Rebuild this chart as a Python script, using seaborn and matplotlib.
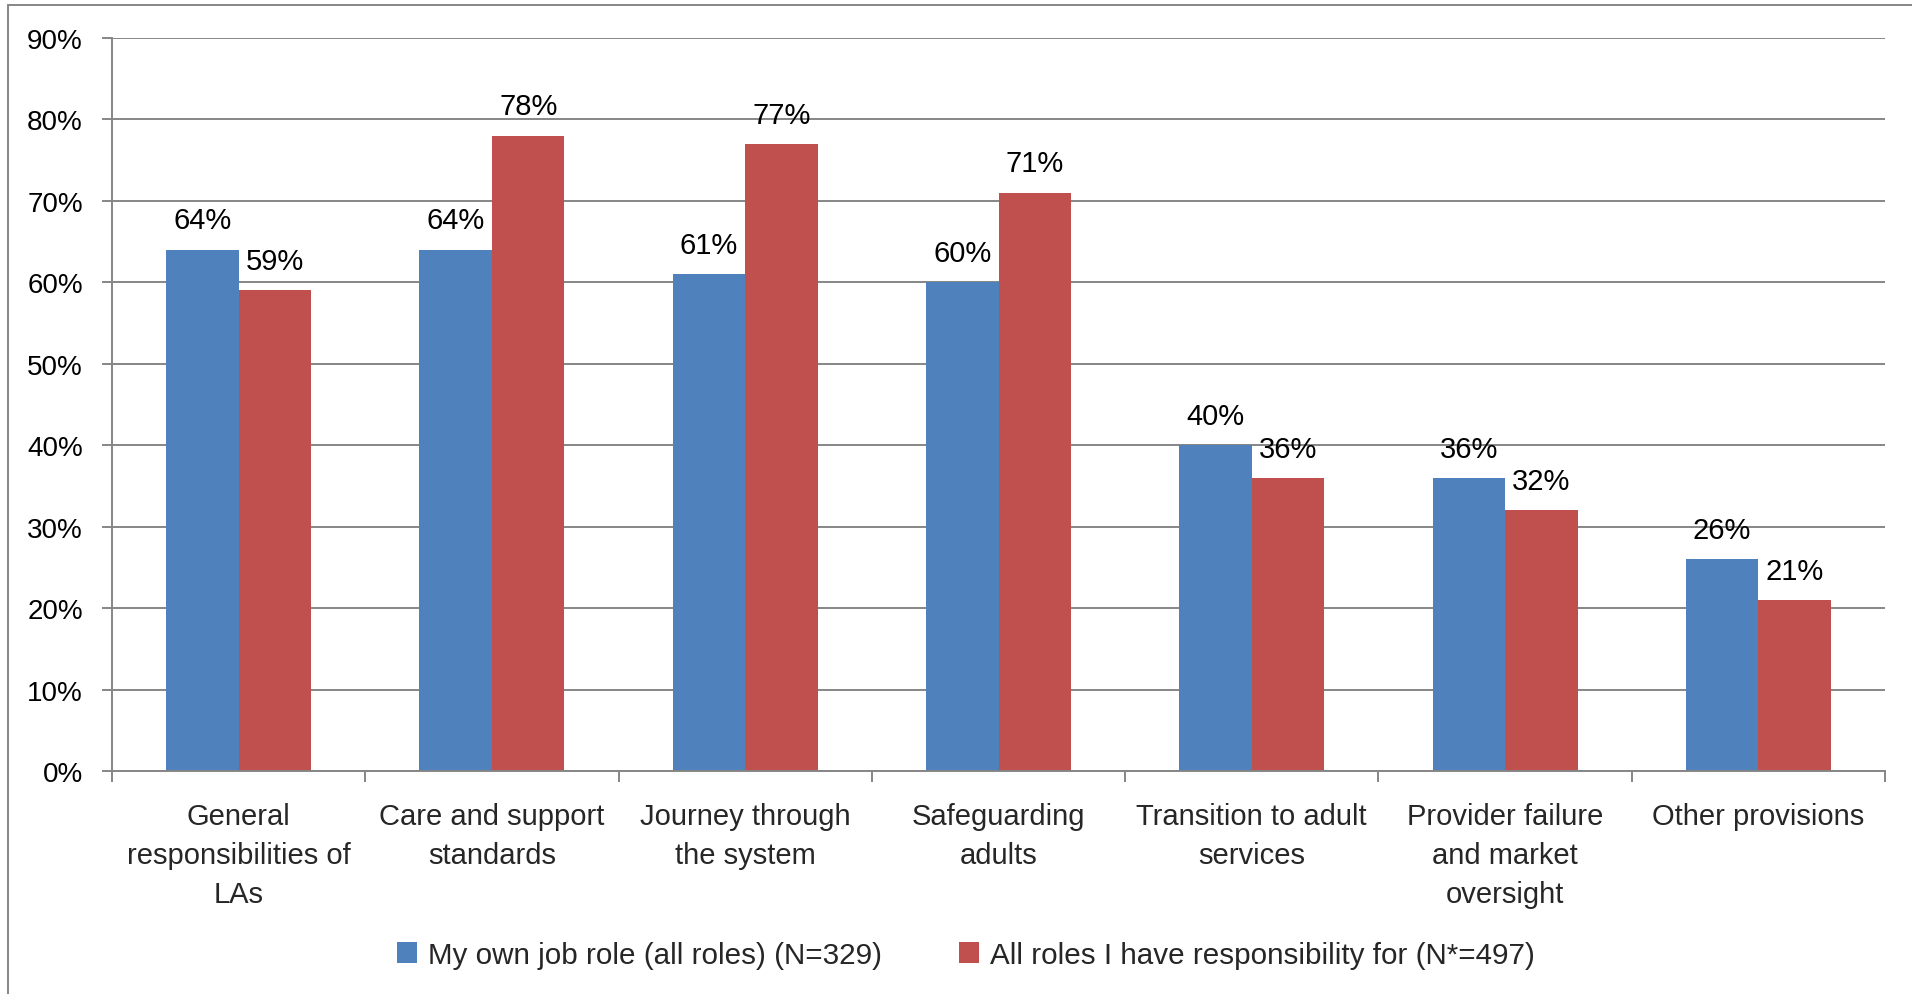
import matplotlib
matplotlib.use("Agg")
import matplotlib.pyplot as plt
from matplotlib.lines import Line2D
import seaborn as sns
import pandas as pd
import numpy as np

categories = [
    "General\nresponsibilities of\nLAs",
    "Care and support\nstandards",
    "Journey through\nthe system",
    "Safeguarding\nadults",
    "Transition to adult\nservices",
    "Provider failure\nand market\noversight",
    "Other provisions",
]
series_names = [
    "My own job role (all roles) (N=329)",
    "All roles I have responsibility for (N*=497)",
]
own_role = [64, 64, 61, 60, 40, 36, 26]
all_roles = [59, 78, 77, 71, 36, 32, 21]
y_ticks = [0, 10, 20, 30, 40, 50, 60, 70, 80, 90]
colors = ["#4F81BD", "#C0504D"]

df = pd.DataFrame({
    "category": categories * 2,
    "series": [series_names[0]] * len(categories) + [series_names[1]] * len(categories),
    "value": own_role + all_roles,
})

sns.set_theme(style="white")
plt.rcParams["font.family"] = ["Liberation Sans", "DejaVu Sans"]
FS = 20
FS_TEXT = 21

fig = plt.figure(figsize=(19.12, 9.95), dpi=100)
ax = fig.add_axes([112 / 1912, 1 - 772 / 995, (1885 - 112) / 1912, (772 - 39) / 995])

sns.barplot(
    data=df, x="category", y="value", hue="series",
    order=categories, hue_order=series_names,
    palette=colors, width=0.573, gap=0, saturation=1,
    edgecolor="none", linewidth=0, ax=ax, legend=True,
)

grid_color = "#868686"
ax.set_ylim(0, 90)
ax.set_xlim(-0.5, len(categories) - 0.5)
ax.set_yticks(y_ticks)
ax.set_yticklabels([f"{t}%" for t in y_ticks], fontsize=FS, color="black")
ax.yaxis.grid(True, color=grid_color, linewidth=1.4)
ax.set_axisbelow(True)
ax.tick_params(axis="y", which="major", length=7, width=1.4, color=grid_color,
               direction="out", pad=14, left=True)

# category boundaries as minor ticks on the x axis
ax.set_xticks(np.arange(-0.5, len(categories), 1.0), minor=True)
ax.tick_params(axis="x", which="minor", length=8, width=1.4, color=grid_color,
               direction="out", bottom=True)
ax.tick_params(axis="x", which="major", length=0, pad=22, labelsize=FS_TEXT)
ax.set_xticklabels(categories, fontsize=FS_TEXT, linespacing=1.5)
ax.set_xlabel("")
ax.set_ylabel("")

for side in ["top", "right"]:
    ax.spines[side].set_visible(False)
for side in ["left", "bottom"]:
    ax.spines[side].set_color(grid_color)
    ax.spines[side].set_linewidth(1.4)

for container in ax.containers:
    ax.bar_label(container, labels=[f"{v:.0f}%" for v in container.datavalues],
                 padding=11, fontsize=FS_TEXT, color="black")

handles, labels = ax.get_legend_handles_labels()
ax.get_legend().remove()
fig.legend(handles, labels, loc="center", bbox_to_anchor=(0.505, 0.039),
           ncol=2, frameon=False, fontsize=FS_TEXT + 0.3, handlelength=0.7, handleheight=0.7,
           handletextpad=0.35, columnspacing=2.6)

# chart border
fig.add_artist(Line2D([8 / 1912, 8 / 1912], [0, 1 - 6 / 995], transform=fig.transFigure,
                      color=grid_color, linewidth=1.4))
fig.add_artist(Line2D([8 / 1912, 1], [1 - 6 / 995, 1 - 6 / 995], transform=fig.transFigure,
                      color=grid_color, linewidth=1.4))

fig.savefig("out.png", dpi=100, facecolor="white")
